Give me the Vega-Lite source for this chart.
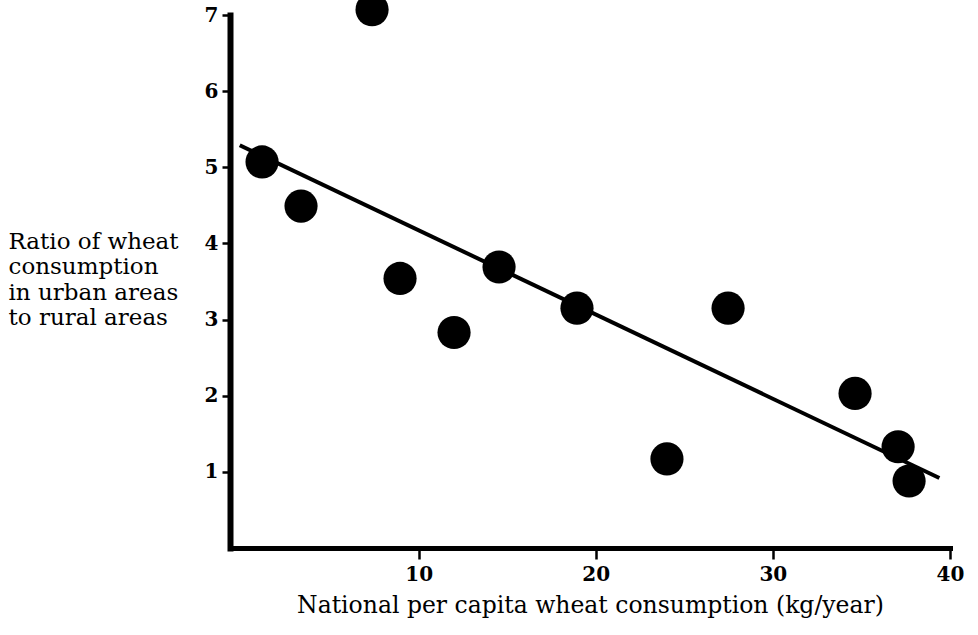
{
  "$schema": "https://vega.github.io/schema/vega-lite/v6.json",
  "width": 720,
  "height": 533,
  "autosize": {"type": "none"},
  "padding": {"left": 230, "top": 15, "right": 28, "bottom": 87},
  "background": "white",
  "config": {
    "view": {"stroke": null},
    "axis": {
      "grid": false,
      "domainColor": "black",
      "tickColor": "black",
      "labelColor": "black",
      "titleColor": "black",
      "labelFont": "DejaVu Serif",
      "titleFont": "DejaVu Serif",
      "labelFontWeight": "bold",
      "titleFontWeight": "normal",
      "domainCap": "square"
    }
  },
  "datasets": {
    "points": [
      {"consumption": 1.16, "ratio": 5.07},
      {"consumption": 3.36, "ratio": 4.49},
      {"consumption": 7.37, "ratio": 7.07},
      {"consumption": 8.95, "ratio": 3.54},
      {"consumption": 12.0, "ratio": 2.83},
      {"consumption": 14.54, "ratio": 3.69},
      {"consumption": 18.94, "ratio": 3.15},
      {"consumption": 24.02, "ratio": 1.17},
      {"consumption": 27.47, "ratio": 3.15},
      {"consumption": 34.64, "ratio": 2.03},
      {"consumption": 37.07, "ratio": 1.33},
      {"consumption": 37.69, "ratio": 0.88}
    ],
    "fit": [
      {"consumption": -0.1, "ratio": 5.29},
      {"consumption": 39.4, "ratio": 0.92}
    ]
  },
  "layer": [
    {
      "data": {"name": "fit"},
      "mark": {"type": "line", "color": "black", "strokeWidth": 4},
      "encoding": {
        "x": {
          "field": "consumption",
          "type": "quantitative",
          "scale": {"domain": [-0.65, 40], "nice": false, "zero": false},
          "axis": {
            "title": "National per capita wheat consumption (kg/year)",
            "titleFontSize": 23.5,
            "titlePadding": 9,
            "values": [10, 20, 30, 40],
            "format": "d",
            "labelFontSize": 20,
            "labelPadding": 5,
            "tickSize": 11,
            "tickWidth": 2.5,
            "domainWidth": 5,
            "labelFlush": false
          }
        },
        "y": {
          "field": "ratio",
          "type": "quantitative",
          "scale": {"domain": [0, 7], "nice": false, "zero": false},
          "axis": {
            "title": ["Ratio of wheat", "consumption", "in urban areas", "to rural areas"],
            "titleAngle": 0,
            "titleAlign": "left",
            "titleBaseline": "top",
            "titleX": -222,
            "titleY": 215,
            "titleFontSize": 23,
            "titleLineHeight": 25.5,
            "values": [1, 2, 3, 4, 5, 6, 7],
            "format": "d",
            "labelFontSize": 20,
            "labelPadding": 4,
            "tickSize": 8,
            "tickWidth": 2.5,
            "domainWidth": 6,
            "labelFlush": false
          }
        }
      }
    },
    {
      "data": {"name": "points"},
      "mark": {"type": "circle", "color": "black", "opacity": 1, "size": 1100},
      "encoding": {
        "x": {"field": "consumption", "type": "quantitative"},
        "y": {"field": "ratio", "type": "quantitative"}
      }
    }
  ]
}
